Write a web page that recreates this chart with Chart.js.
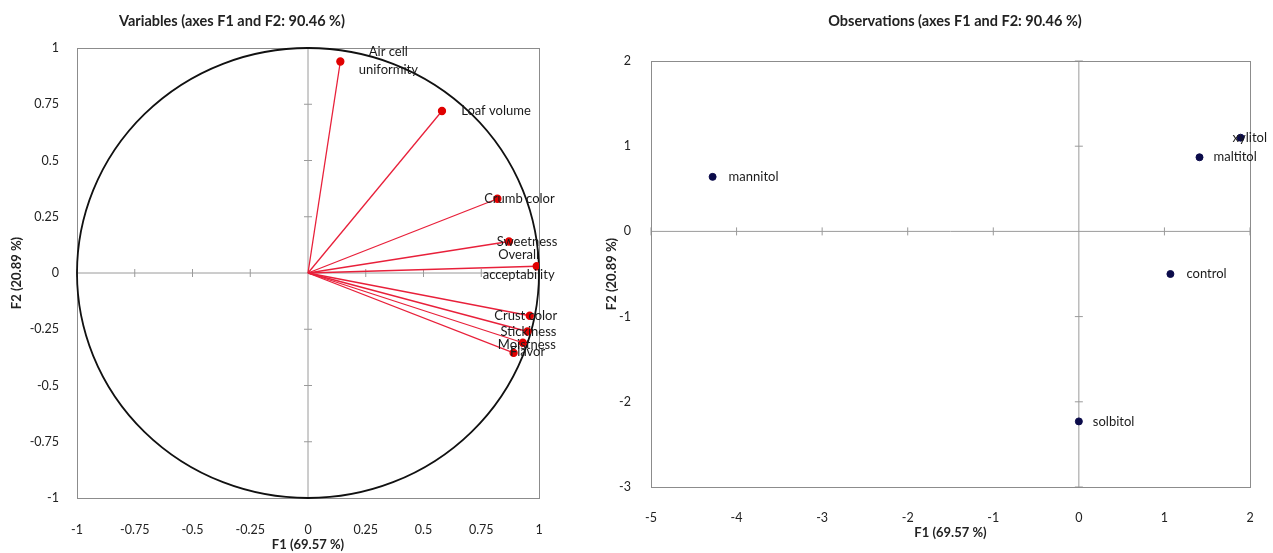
<!DOCTYPE html>
<html>
<head>
<meta charset="utf-8">
<script src="https://cdn.jsdelivr.net/npm/chart.js@4.4.1/dist/chart.umd.min.js"></script>
<style>
  body { margin: 0; background: #fff; }
  #wrap { position: relative; width: 1273px; height: 553px; overflow: hidden; }
  #vars_chart { position: absolute; left: 0; top: 0; }
  #obs_chart { position: absolute; left: 580px; top: 0; }
</style>
</head>
<body>
<div id="wrap">
  <canvas id="vars_chart" width="640" height="553"></canvas>
  <canvas id="obs_chart" width="693" height="553"></canvas>
</div>
<script>
// === data ===
const VarNames = [
    'Air cell\nuniformity', 'Loaf volume', 'Crumb color', 'Sweetness',
    'Overall\nacceptability', 'Crust color', 'Stickiness', 'Moistness', 'Flavor'
];
const VarF1 = [0.14, 0.58, 0.82, 0.87, 0.99, 0.96, 0.95, 0.93, 0.89];
const VarF2 = [0.94, 0.72, 0.33, 0.14, 0.03, -0.19, -0.26, -0.31, -0.355];

const ObsNames = ['control', 'mannitol', 'solbitol', 'maltitol', 'xylitol'];
const ObsF1 = [1.07, -4.28, 0.0, 1.41, 1.89];
const ObsF2 = [-0.50, 0.64, -2.23, 0.87, 1.10];

const VarTicks = [-1, -0.75, -0.5, -0.25, 0, 0.25, 0.5, 0.75, 1];
const ObsXTicks = [-5, -4, -3, -2, -1, 0, 1, 2];
const ObsYTicks = [-3, -2, -1, 0, 1, 2];

// label offsets (px, from the point) - just styling
const VarLabelShift = [
    [48, -10, 8], [54, 0], [22, 0], [18, 0], [-18, -11, 9],
    [-4, 0], [1, 0], [4, 2], [14, -1]
];
const ObsLabelShift = [[16, 0], [16, 0], [14, 0], [14, 0], [-8, 0]];

const FONT = 'Lato, "Open Sans", sans-serif';
Chart.defaults.font.family = FONT;
Chart.defaults.color = '#222';

// === helpers ===
function axisFrame(chart, xTicks, yTicks) {
    const ctx = chart.ctx, a = chart.chartArea;
    const xs = chart.scales.x, ys = chart.scales.y;
    const x0 = xs.getPixelForValue(0), y0 = ys.getPixelForValue(0);
    ctx.save();
    ctx.strokeStyle = '#9a9a9a';
    ctx.lineWidth = 1;
    ctx.beginPath();
    ctx.moveTo(a.left, y0); ctx.lineTo(a.right, y0);
    ctx.moveTo(x0, a.top); ctx.lineTo(x0, a.bottom);
    xTicks.forEach(v => {
        if (v === 0) return;
        const px = xs.getPixelForValue(v);
        ctx.moveTo(px, y0 - 4); ctx.lineTo(px, y0 + 4);
    });
    yTicks.forEach(v => {
        if (v === 0) return;
        const py = ys.getPixelForValue(v);
        ctx.moveTo(x0 - 4, py); ctx.lineTo(x0 + 4, py);
    });
    ctx.stroke();
    ctx.strokeStyle = '#8c8c8c';
    ctx.strokeRect(a.left + 0.5, a.top + 0.5, a.right - a.left, a.bottom - a.top);
    ctx.restore();
}

function drawTitle(chart, text, cx) {
    const ctx = chart.ctx;
    ctx.save();
    ctx.font = 'bold 14.5px ' + FONT;
    ctx.fillStyle = '#222';
    ctx.textAlign = 'center';
    ctx.textBaseline = 'middle';
    ctx.fillText(text, cx, 21);
    ctx.restore();
}

function axisTitle(text, pad) {
    return { display: true, text: text, color: '#222', font: { size: 13, weight: 'bold' }, padding: pad };
}

const plainTick = v => String(v);

// === variables chart (correlation circle) ===
const varDatasets = VarNames.map((n, i) => ({
    label: n,
    data: [{ x: 0, y: 0 }, { x: VarF1[i], y: VarF2[i] }],
    showLine: true,
    borderColor: '#e8203a',
    borderWidth: 1.3,
    pointRadius: [0, 3.5],
    pointBackgroundColor: '#e00000',
    pointBorderColor: '#e00000'
}));

const varPlugin = {
    id: 'varDecor',
    beforeDatasetsDraw(chart) {
        axisFrame(chart, VarTicks, VarTicks);
        const ctx = chart.ctx;
        const xs = chart.scales.x, ys = chart.scales.y;
        const cx = xs.getPixelForValue(0), cy = ys.getPixelForValue(0);
        const rx = xs.getPixelForValue(1) - cx, ry = cy - ys.getPixelForValue(1);
        ctx.save();
        ctx.strokeStyle = '#111';
        ctx.lineWidth = 1.8;
        ctx.beginPath();
        ctx.ellipse(cx, cy, rx, ry, 0, 0, Math.PI * 2);
        ctx.stroke();
        ctx.restore();
    },
    afterDatasetsDraw(chart) {
        const ctx = chart.ctx;
        ctx.save();
        ctx.font = '13px ' + FONT;
        ctx.fillStyle = '#1a1a1a';
        ctx.textAlign = 'center';
        ctx.textBaseline = 'middle';
        VarNames.forEach((n, i) => {
            const pt = chart.getDatasetMeta(i).data[1];
            const sh = VarLabelShift[i];
            const lines = n.split('\n');
            lines.forEach((ln, k) => {
                ctx.fillText(ln, pt.x + sh[0], pt.y + sh[1 + k]);
            });
        });
        ctx.restore();
    },
    afterDraw(chart) {
        drawTitle(chart, 'Variables (axes F1 and F2: 90.46 %)', 232);
    }
};

var varChart = new Chart(document.getElementById('vars_chart'), {
    type: 'scatter',
    data: { datasets: varDatasets },
    options: {
        responsive: false,
        animation: false,
        layout: { padding: { top: 48, right: 101, left: 0, bottom: 0 } },
        plugins: { legend: { display: false }, tooltip: { enabled: false } },
        scales: {
            x: {
                min: -1, max: 1,
                afterBuildTicks: s => { s.ticks = VarTicks.map(v => ({ value: v })); },
                afterFit: s => { s.height = 55; },
                grid: { display: false },
                border: { display: false },
                ticks: { padding: 16, font: { size: 12.5 }, color: '#222', callback: plainTick },
                title: axisTitle('F1 (69.57 %)', { top: 0, bottom: 0 })
            },
            y: {
                min: -1, max: 1,
                afterBuildTicks: s => { s.ticks = VarTicks.map(v => ({ value: v })); },
                afterFit: s => { s.width = 77; },
                grid: { display: false },
                border: { display: false },
                ticks: { padding: 10, font: { size: 12.5 }, color: '#222', callback: plainTick },
                title: axisTitle('F2 (20.89 %)', { top: 9, bottom: 0 })
            }
        }
    },
    plugins: [varPlugin]
});

// === observations chart ===
const obsPlugin = {
    id: 'obsDecor',
    beforeDatasetsDraw(chart) {
        axisFrame(chart, ObsXTicks, ObsYTicks);
    },
    afterDatasetsDraw(chart) {
        const ctx = chart.ctx;
        const meta = chart.getDatasetMeta(0);
        ctx.save();
        ctx.font = '13px ' + FONT;
        ctx.fillStyle = '#1a1a1a';
        ctx.textAlign = 'left';
        ctx.textBaseline = 'middle';
        ObsNames.forEach((n, i) => {
            const pt = meta.data[i];
            ctx.fillText(n, pt.x + ObsLabelShift[i][0], pt.y + ObsLabelShift[i][1]);
        });
        ctx.restore();
    },
    afterDraw(chart) {
        drawTitle(chart, 'Observations (axes F1 and F2: 90.46 %)', 375);
    }
};

var obsChart = new Chart(document.getElementById('obs_chart'), {
    type: 'scatter',
    data: {
        datasets: [{
            label: 'observations',
            data: ObsF1.map((v, i) => ({ x: v, y: ObsF2[i] })),
            pointRadius: 3.5,
            pointBackgroundColor: '#0b0b4a',
            pointBorderColor: '#0b0b4a'
        }]
    },
    options: {
        responsive: false,
        animation: false,
        layout: { padding: { top: 61, right: 23, left: 0, bottom: 0 } },
        plugins: { legend: { display: false }, tooltip: { enabled: false } },
        scales: {
            x: {
                min: -5, max: 2,
                afterBuildTicks: s => { s.ticks = ObsXTicks.map(v => ({ value: v })); },
                afterFit: s => { s.height = 66; },
                grid: { display: false },
                border: { display: false },
                ticks: { padding: 15, font: { size: 12.5 }, color: '#222', callback: plainTick },
                title: axisTitle('F1 (69.57 %)', { top: 0, bottom: 12 })
            },
            y: {
                min: -3, max: 2,
                afterBuildTicks: s => { s.ticks = ObsYTicks.map(v => ({ value: v })); },
                afterFit: s => { s.width = 71; },
                grid: { display: false },
                border: { display: false },
                ticks: { padding: 12, font: { size: 12.5 }, color: '#222', callback: plainTick },
                title: axisTitle('F2 (20.89 %)', { top: 24, bottom: 0 })
            }
        }
    },
    plugins: [obsPlugin]
});
</script>
</body>
</html>
